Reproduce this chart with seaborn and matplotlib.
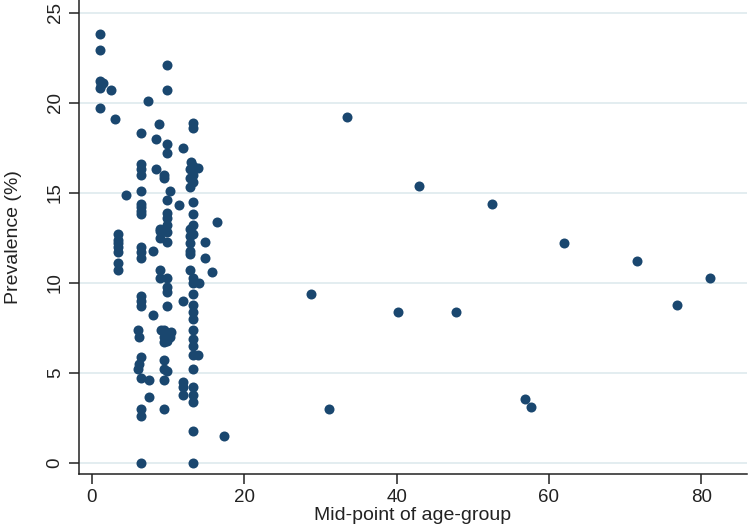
import pandas as pd
import matplotlib
matplotlib.use('Agg')
import matplotlib.pyplot as plt
import seaborn as sns

# Mid-point of age-group (x) and prevalence % (y)
age_mid = [
    # youngest columns
    1.0, 1.0, 1.0, 1.0, 1.0, 1.5, 1.2, 2.45, 3.0,
    3.45, 3.45, 3.45, 3.45, 3.45, 3.45, 3.45,
    4.5,
    # column around 6.4
    6.4, 6.4, 6.4, 6.4, 6.4, 6.4, 6.4, 6.4, 6.4, 6.4, 6.4, 6.4,
    6.4, 6.4, 6.4, 6.1, 6.2, 6.4, 6.2, 6.0, 6.4, 6.4, 6.4, 6.4,
    # 7.5 - 9.5
    7.4, 8.0, 8.0, 7.5, 7.5,
    8.4, 8.4, 8.8,
    8.9, 8.9, 8.9, 8.9, 8.9,
    9.4, 9.4, 9.4, 9.4, 9.4, 9.4, 9.4, 9.4, 9.4,
    # column around 9.9
    9.9, 9.9, 9.9, 9.9, 10.3, 9.9, 9.9, 9.9, 9.9, 9.9, 9.9, 9.9,
    9.9, 9.9, 9.9, 9.9, 9.0, 10.2, 10.4, 9.8, 9.9,
    # around 12
    11.9, 11.4, 11.9, 11.9, 11.9, 11.9,
    # column around 13.3
    13.3, 13.3, 13.0, 13.3, 12.9, 13.3, 12.9, 13.3, 12.9, 13.3, 13.3, 13.3,
    12.9, 13.3, 12.9, 12.9, 12.9, 12.9, 12.9, 13.3, 13.3, 13.3, 13.3, 13.3,
    13.3, 13.3, 13.3, 13.3, 13.3, 13.3, 13.3, 13.3, 13.3, 13.3, 13.3,
    # edge of the cluster
    13.95, 13.95, 14.1, 14.9, 14.9, 15.8, 16.4, 17.3,
    # older age-groups
    28.7, 31.1, 33.5, 40.2, 43.0, 47.8, 52.5, 56.8, 57.7, 62.0, 71.5, 76.8, 81.1,
]

prevalence = [
    23.8, 22.9, 21.2, 20.8, 19.7, 21.1, 21.0, 20.7, 19.1,
    12.7, 12.4, 12.2, 12.0, 11.7, 11.1, 10.7,
    14.9,
    18.3, 16.6, 16.3, 16.0, 15.1, 14.4, 14.2, 14.0, 13.8, 12.0, 11.7, 11.4,
    9.3, 9.0, 8.7, 7.4, 7.0, 5.9, 5.5, 5.25, 4.7, 3.0, 2.6, 0.0,
    20.1, 11.8, 8.2, 4.6, 3.7,
    18.0, 16.35, 18.8,
    13.0, 12.9, 12.5, 10.7, 10.3,
    16.0, 15.8, 7.4, 7.0, 6.7, 5.7, 5.2, 4.6, 3.0,
    22.1, 20.7, 17.7, 17.2, 15.1, 14.6, 13.9, 13.6, 13.2, 12.8, 12.3, 10.3,
    9.8, 9.5, 8.7, 5.1, 7.4, 7.0, 7.3, 6.8, 7.2,
    17.5, 14.3, 9.0, 4.5, 4.2, 3.8,
    18.9, 18.6, 16.7, 16.5, 16.3, 16.0, 15.8, 15.6, 15.3, 14.5, 13.8, 13.2,
    13.0, 12.7, 12.6, 12.2, 11.8, 11.6, 10.7, 10.3, 10.0, 9.4, 8.8, 8.4,
    8.0, 7.4, 6.9, 6.5, 6.0, 5.25, 4.2, 3.8, 3.4, 1.8, 0.0,
    16.4, 6.0, 10.0, 12.3, 11.4, 10.6, 13.4, 1.5,
    9.4, 3.0, 19.2, 8.4, 15.4, 8.4, 14.4, 3.55, 3.1, 12.2, 11.2, 8.8, 10.3,
]

x_ticks = [0, 20, 40, 60, 80]
y_ticks = [0, 5, 10, 15, 20, 25]

df = pd.DataFrame({'age_mid': age_mid, 'prevalence': prevalence})

sns.set_style('white')
plt.rcParams['font.family'] = ['Liberation Sans', 'DejaVu Sans']

fig = plt.figure(figsize=(7.49, 5.30), dpi=100)
ax = fig.add_axes([79 / 749, 56 / 530, 668 / 749, 474 / 530])

# Stata-like horizontal gridlines
for yv in y_ticks:
    ax.axhline(yv, color='#e3edf0', lw=1.4, zorder=0)

sns.scatterplot(data=df, x='age_mid', y='prevalence', ax=ax,
                color='#1a476f', s=52, linewidth=0, marker='o', zorder=3)

ax.set_xlim(-1.7, 86.0)
ax.set_ylim(-0.6, 25.7)
ax.set_xticks(x_ticks)
ax.set_yticks(y_ticks)
ax.set_yticklabels([str(v) for v in y_ticks], rotation=90, va='center')
ax.tick_params(axis='both', direction='out', length=7, width=1.1,
               color='#222222', labelsize=13.5, labelcolor='#222222', pad=4,
               left=True, bottom=True)

for side in ['top', 'right']:
    ax.spines[side].set_visible(False)
for side in ['left', 'bottom']:
    ax.spines[side].set_color('#222222')
    ax.spines[side].set_linewidth(1.1)

ax.set_xlabel('Mid-point of age-group', fontsize=14, color='#222222')
ax.set_ylabel('Prevalence (%)', fontsize=14, color='#222222')
ax.xaxis.set_label_coords(0.5, -0.07)
ax.yaxis.set_label_coords(-0.086, 0.5)

fig.savefig('out.png', dpi=100, facecolor='white')
